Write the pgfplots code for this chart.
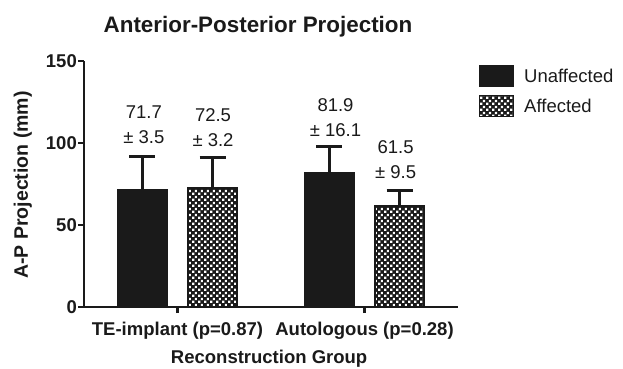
\documentclass[border=0pt]{standalone}
\usepackage{pgfplots}
\pgfplotsset{compat=1.18}
\usepackage{fontspec}
\setmainfont{Liberation Sans}
\usetikzlibrary{patterns}
\pgfdeclarepatternformonly{whitesq}{\pgfpointorigin}{\pgfqpoint{6pt}{6pt}}{\pgfqpoint{6pt}{6pt}}{%
  \pgfpathrectangle{\pgfqpoint{0.2pt}{0.2pt}}{\pgfqpoint{2.6pt}{2.6pt}}%
  \pgfpathrectangle{\pgfqpoint{3.2pt}{3.2pt}}{\pgfqpoint{2.6pt}{2.6pt}}%
  \pgfusepath{fill}}
\definecolor{barblack}{HTML}{1A1A1A}
\begin{document}
\begin{tikzpicture}
\path[use as bounding box] (0,0) rectangle (623pt,368pt);
\begin{axis}[
  at={(84pt,61pt)}, anchor=south west,
  scale only axis, width=374pt, height=246pt,
  xmin=-0.5, xmax=1.5, ymin=0, ymax=150,
  enlargelimits=false, clip=false,
  axis lines*=left,
  axis line style={line width=2.2pt, barblack},
  tick align=outside,
  major tick length=6pt,
  tick style={line width=2.2pt, barblack},
  ytick={0,50,100,150},
  xtick={0,1},
  xticklabels={TE-implant (p=0.87), Autologous (p=0.28)},
  /pgf/number format/assume math mode=true,
  ticklabel style={font=\fontsize{18.5}{21}\selectfont\bfseries, text=barblack},
  yticklabel style={inner sep=1pt},
  xticklabel style={anchor=base, yshift=-22pt},
  xlabel={Reconstruction Group},
  ylabel={A-P Projection (mm)},
  xlabel style={font=\fontsize{18.5}{21}\selectfont\bfseries, text=barblack,
    at={(axis description cs:0.495,-0.228)}, anchor=base},
  ylabel style={font=\fontsize{19.5}{22}\selectfont\bfseries, text=barblack,
    at={(axis description cs:-0.150,0.496)}, anchor=base},
  legend style={at={(axis description cs:1,1)}, anchor=north west,
    xshift=21pt, yshift=-4pt, draw=none, fill=none, inner sep=0pt,
    row sep=8pt, font=\fontsize{18.5}{21}\selectfont, text=barblack,
    cells={anchor=west},
    /tikz/every odd column/.append style={column sep=8pt}},
  legend image code/.code={\draw[#1, line width=1pt] (0pt,-10.5pt) rectangle (34pt,10.5pt);},
]
\addplot[ybar, bar width=49pt, bar shift=0pt, draw=barblack, line width=1.5pt, fill=barblack,
  error bars/.cd, y dir=plus, y explicit,
  error bar style={line width=2.6pt, barblack},
  error mark options={rotate=90, mark size=13pt, line width=2.6pt, barblack}]
  coordinates {(-0.1872,71.7) +- (0,20.0) (0.8128,81.9) +- (0,16.1)};
\addlegendentry{Unaffected}
\addplot[ybar, bar width=49pt, bar shift=0pt, draw=barblack, line width=1.5pt, fill=barblack,
  postaction={pattern=whitesq, pattern color=white},
  error bars/.cd, y dir=plus, y explicit,
  error bar style={line width=2.6pt, barblack},
  error mark options={rotate=90, mark size=13pt, line width=2.6pt, barblack}]
  coordinates {(0.1872,72.5) +- (0,18.5) (1.1872,61.5) +- (0,9.5)};
\addlegendentry{Affected}
\node[align=center, font=\fontsize{18.5}{25}\selectfont, text=barblack] at (axis cs:-0.18,111.3) {71.7\\± 3.5};
\node[align=center, font=\fontsize{18.5}{25}\selectfont, text=barblack] at (axis cs:0.19,109.5) {72.5\\± 3.2};
\node[align=center, font=\fontsize{18.5}{25}\selectfont, text=barblack] at (axis cs:0.845,115.2) {81.9\\± 16.1};
\node[align=center, font=\fontsize{18.5}{25}\selectfont, text=barblack] at (axis cs:1.166,89.9) {61.5\\± 9.5};
\end{axis}
\node[anchor=base, font=\fontsize{22.4}{26}\selectfont\bfseries, text=barblack] at (258pt,336pt) {Anterior-Posterior Projection};
\end{tikzpicture}
\end{document}
